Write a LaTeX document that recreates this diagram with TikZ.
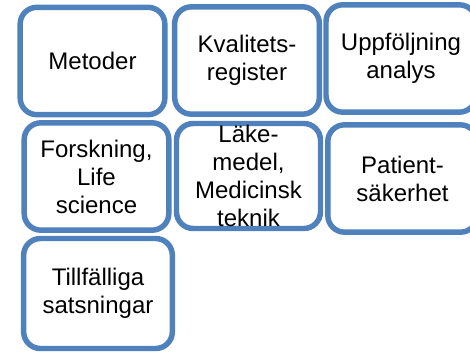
\documentclass[tikz,border=0pt]{standalone}
\usepackage{fontspec}
\setmainfont{Liberation Sans}
\usepackage{tikz}
\usetikzlibrary{positioning}
\definecolor{boxblue}{RGB}{79,129,189}

\begin{document}
\begin{tikzpicture}[x=0.75pt,y=-0.75pt,
	area/.style={draw=boxblue,line width=4.1pt,rounded corners=12.5pt,fill=white,
		inner sep=0pt,align=center,font=\fontsize{18}{21}\selectfont},
	wide/.style={area,minimum width=108.5pt,minimum height=80.5pt}]
\useasboundingbox (0,0) rectangle (470,353);
\node[wide]	(a_met)		at (92.5,61)	{Metoder};
\node[wide]	(a_kval)	at (247,60.5)	{Kvalitets-\\register};
\node[wide,minimum width=112.5pt]
			(a_uppf)	at (401,58.5)	{Uppföljning\\analys};
\node[wide]	(a_forsk)	at (96.5,176.5)	{Forskning,\\Life\\science};
\node[wide,minimum width=108pt,minimum height=78.75pt]
			(a_lake)	at (248.5,176)	{Läke-\\medel,\\Medicinsk\\teknik};
\node[wide,minimum width=112pt]
			(a_pat)		at (402.5,178.5)	{Patient-\\säkerhet};
\node[wide,minimum width=111.5pt,minimum height=82.5pt]
			(a_till)	at (98,293.5)	{Tillfälliga\\satsningar};
\end{tikzpicture}
\end{document}
